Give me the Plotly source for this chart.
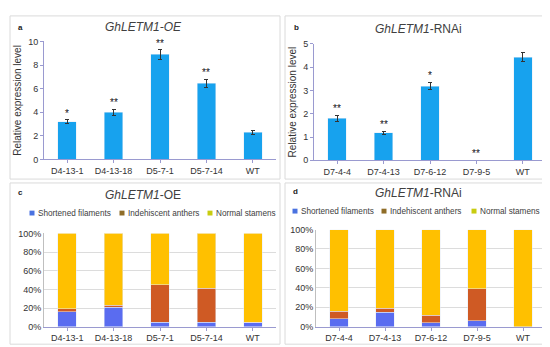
import plotly.graph_objects as go

# ---- data ----
oe_lines = ["D4-13-1", "D4-13-18", "D5-7-1", "D5-7-14", "WT"]
oe_expr = [3.2, 4.0, 8.9, 6.45, 2.3]
oe_err = [0.15, 0.25, 0.4, 0.35, 0.15]
oe_sig = ["*", "**", "**", "**", ""]

rnai_lines = ["D7-4-4", "D7-4-13", "D7-6-12", "D7-9-5", "WT"]
rnai_expr = [1.8, 1.18, 3.18, 0.0, 4.42]
rnai_err = [0.12, 0.07, 0.15, 0.0, 0.2]
rnai_sig = ["**", "**", "*", "**", ""]

phenotypes = ["Shortened filaments", "Indehiscent anthers", "Normal stamens"]
oe_short = [16, 21, 5, 5, 4]
oe_indeh = [3, 2, 40, 36, 1]
oe_normal = [81, 77, 55, 59, 95]
rnai_short = [8, 15, 4, 6, 0]
rnai_indeh = [8, 4, 8, 33, 0]
rnai_normal = [84, 81, 88, 61, 100]

W, H = 550, 347
def px(x): return x / W
def py(y): return 1 - y / H

FONT = "Liberation Sans, Arial, sans-serif"
BAR = "#17a2ee"
AXC = "#9a9ad0"
PCOL = ["#5a6cf0", "#cf5a24", "#ffc000"]
LEGCOL = ["#4a72e0", "#8f6d28", "#c8cc10"]

fig = go.Figure()

fig.add_trace(go.Bar(x=oe_lines, y=oe_expr, marker_color=BAR, width=0.4,
                     error_y=dict(type="data", array=oe_err, color="#333", thickness=1, width=2),
                     xaxis="x", yaxis="y", showlegend=False))
fig.add_trace(go.Bar(x=rnai_lines, y=rnai_expr, marker_color=BAR, width=0.4,
                     error_y=dict(type="data", array=rnai_err, color="#333", thickness=1, width=2),
                     xaxis="x2", yaxis="y2", showlegend=False))

for name, vals, col in zip(phenotypes, [oe_short, oe_indeh, oe_normal], PCOL):
    fig.add_trace(go.Bar(x=oe_lines, y=vals, name=name, marker_color=col, width=0.4,
                         xaxis="x3", yaxis="y3", showlegend=False))
for name, vals, col in zip(phenotypes, [rnai_short, rnai_indeh, rnai_normal], PCOL):
    fig.add_trace(go.Bar(x=rnai_lines, y=vals, name=name, marker_color=col, width=0.4,
                         xaxis="x4", yaxis="y4", showlegend=False))

ann = []
for xs, ys, es, ss, xa, ya, off in [(oe_lines, oe_expr, oe_err, oe_sig, "x", "y", 0.55),
                                     (rnai_lines, rnai_expr, rnai_err, rnai_sig, "x2", "y2", 0.3)]:
    for x, y, e, s in zip(xs, ys, es, ss):
        if s:
            ann.append(dict(x=x, y=y + e + off, xref=xa, yref=ya, text=s, showarrow=False,
                            borderpad=0, font=dict(size=10, color="#111", family=FONT),
                            yanchor="middle"))

titles = [(135, 14, "<i>GhLETM1-OE</i>"), (410, 16, "<i>GhLETM1</i>-RNAi"),
          (135, 187, "<i>GhLETM1</i>-OE"), (410, 185, "<i>GhLETM1</i>-RNAi")]
for x, y, t in titles:
    ann.append(dict(x=px(x), y=py(y), xref="paper", yref="paper", text=t, showarrow=False,
                    xanchor="center", yanchor="middle", borderpad=0,
                    font=dict(size=12, color="#404040", family=FONT)))
for x, y, t in [(12, 15, "a"), (288, 15, "b"), (12, 185, "c"), (287, 184, "d")]:
    ann.append(dict(x=px(x), y=py(y), xref="paper", yref="paper", text="<b>%s</b>" % t,
                    showarrow=False, xanchor="center", yanchor="middle",
                    font=dict(size=8, color="#222", family=FONT)))

shapes = []
for x0, y0, x1, y1 in [(2, 3, 272, 171), (277, 3, 543, 171), (2, 175, 272, 341), (277, 175, 543, 341)]:
    shapes.append(dict(type="rect", xref="paper", yref="paper", x0=px(x0), x1=px(x1),
                       y0=py(y1), y1=py(y0), line=dict(color="#dadada", width=1)))

# manual legends (small squares + text)
for ly, xs in [(206, [24, 114, 202]), (204, [287, 376, 466])]:
    for name, col, lx in zip(phenotypes, LEGCOL, xs):
        shapes.append(dict(type="rect", xref="paper", yref="paper",
                           x0=px(lx - 2.5), x1=px(lx + 2.5), y0=py(ly + 2.5), y1=py(ly - 2.5),
                           fillcolor=col, line=dict(width=0)))
        ann.append(dict(x=px(lx + 4), y=py(ly), xref="paper", yref="paper", text=name,
                        showarrow=False, xanchor="left", yanchor="middle",
                        font=dict(size=8.2, color="#404040", family=FONT)))

tickf = dict(size=9, color="#333", family=FONT)
xcommon = dict(showline=True, linecolor=AXC, linewidth=1, ticks="outside", tickcolor=AXC,
               ticklen=3, tickfont=tickf, showgrid=False, zeroline=False)

fig.update_layout(
    width=W, height=H, margin=dict(l=0, r=0, t=0, b=0),
    paper_bgcolor="white", plot_bgcolor="white", barmode="stack",
    font=dict(family=FONT), showlegend=False,
    xaxis=dict(domain=[px(36), px(268)], anchor="y", **xcommon),
    yaxis=dict(domain=[py(150.7), py(29.3)], range=[0, 10], dtick=2, anchor="x",
               showline=True, linecolor=AXC, ticks="outside", tickcolor=AXC, ticklen=3,
               tickfont=tickf, showgrid=False, zeroline=False,
               title=dict(text="Relative expression level", font=dict(size=10, color="#333"), standoff=4)),
    xaxis2=dict(domain=[px(306), px(538)], anchor="y2", **xcommon),
    yaxis2=dict(domain=[py(151.7), py(31.7)], range=[0, 5], dtick=1, anchor="x2",
                showline=True, linecolor=AXC, ticks="outside", tickcolor=AXC, ticklen=3,
                tickfont=tickf, showgrid=False, zeroline=False,
                title=dict(text="Relative expression level", font=dict(size=10, color="#333"), standoff=4)),
    xaxis3=dict(domain=[px(36), px(268)], anchor="y3", **xcommon),
    yaxis3=dict(domain=[py(323), py(227)], range=[0, 100], dtick=20, ticksuffix="%", anchor="x3",
                showline=True, linecolor="#bfbfbf", ticks="", tickfont=tickf,
                showgrid=True, gridcolor="#dcdcdc", zeroline=False),
    xaxis4=dict(domain=[px(308), px(538)], anchor="y4", **xcommon),
    yaxis4=dict(domain=[py(323), py(223)], range=[0, 100], dtick=20, ticksuffix="%", anchor="x4",
                showline=True, linecolor="#bfbfbf", ticks="", tickfont=tickf,
                showgrid=True, gridcolor="#dcdcdc", zeroline=False),
    annotations=ann, shapes=shapes,
)

fig.write_html("out.html")
